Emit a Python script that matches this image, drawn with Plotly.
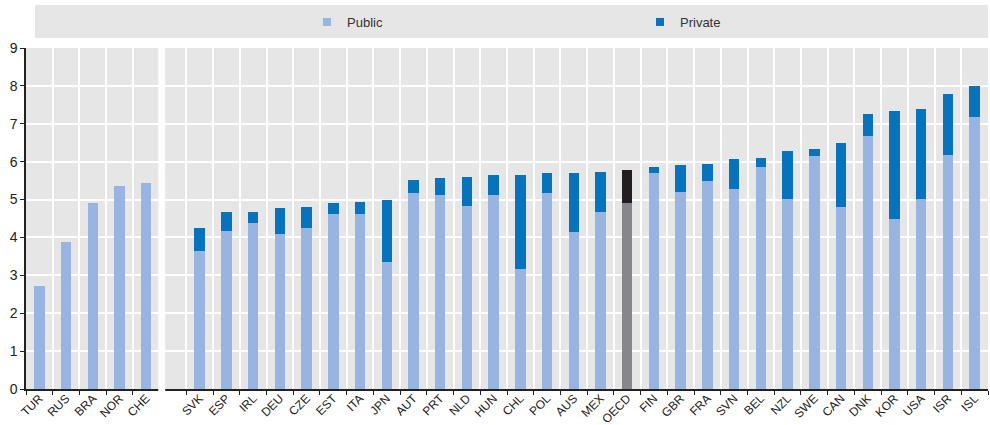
import plotly.graph_objects as go

categories = ["TUR", "RUS", "BRA", "NOR", "CHE", " ",
              "SVK", "ESP", "IRL", "DEU", "CZE", "EST", "ITA", "JPN", "AUT", "PRT",
              "NLD", "HUN", "CHL", "POL", "AUS", "MEX", "OECD", "FIN", "GBR", "FRA",
              "SVN", "BEL", "NZL", "SWE", "CAN", "DNK", "KOR", "USA", "ISR", "ISL"]

public = [2.72, 3.88, 4.92, 5.36, 5.43, None,
          3.64, 4.17, 4.39, 4.09, 4.25, 4.63, 4.61, 3.34, 5.17, 5.13,
          4.83, 5.11, 3.16, 5.17, 4.15, 4.67, 4.92, 5.71, 5.19, 5.49,
          5.28, 5.87, 5.02, 6.16, 4.81, 6.68, 4.48, 5.02, 6.17, 7.18]

private = [None, None, None, None, None, None,
           0.61, 0.50, 0.28, 0.69, 0.56, 0.27, 0.32, 1.65, 0.35, 0.44,
           0.77, 0.54, 2.49, 0.54, 1.56, 1.06, 0.86, 0.15, 0.73, 0.44,
           0.78, 0.23, 1.25, 0.18, 1.68, 0.58, 2.87, 2.38, 1.61, 0.82]

y_ticks = [0, 1, 2, 3, 4, 5, 6, 7, 8, 9]

PUBLIC_COL = "#98B4E0"
PRIVATE_COL = "#0673BC"
OECD_PUB_COL = "#85878A"
OECD_PRIV_COL = "#231F20"

pub_colors = [OECD_PUB_COL if c == "OECD" else PUBLIC_COL for c in categories]
priv_colors = [OECD_PRIV_COL if c == "OECD" else PRIVATE_COL for c in categories]

FONT = "Liberation Sans Narrow, Arial Narrow, Liberation Sans, Arial, sans-serif"

fig = go.Figure()
fig.add_trace(go.Bar(x=categories, y=public, marker=dict(color=pub_colors, line_width=0),
                     width=0.39, showlegend=False, name="Public"))
fig.add_trace(go.Bar(x=categories, y=private, marker=dict(color=priv_colors, line_width=0),
                     width=0.39, showlegend=False, name="Private"))
# legend entries
fig.add_trace(go.Scatter(x=[None], y=[None], mode="markers", name="Public",
                         marker=dict(symbol="square", size=8, color=PUBLIC_COL)))
fig.add_trace(go.Scatter(x=[None], y=[None], mode="markers", name="Private",
                         marker=dict(symbol="square", size=8, color=PRIVATE_COL)))

fig.update_layout(
    barmode="stack",
    width=990, height=425,
    margin=dict(l=26, r=2, t=48, b=36, autoexpand=False),
    paper_bgcolor="white",
    plot_bgcolor="#E6E6E6",
    font=dict(family=FONT, size=12, color="#222222"),
    showlegend=True,
    legend=dict(orientation="h", xref="container", yref="container", traceorder="normal",
                x=307 / 990, y=1 - 7 / 425, xanchor="left", yanchor="top",
                bgcolor="rgba(0,0,0,0)", entrywidth=288, entrywidthmode="pixels",
                font=dict(family=FONT, size=13, color="#333333")),
    shapes=[
        dict(type="rect", xref="paper", yref="paper", x0=(35 - 26) / 962, x1=1.0,
             y0=(389 - 38) / 341, y1=(389 - 5) / 341, fillcolor="#E6E6E6",
             line_width=0, layer="below"),
        dict(type="rect", xref="x", yref="paper", x0=4.45, x1=4.71,
             y0=-0.02, y1=1.0, fillcolor="white", line_width=0, layer="above"),
    ],
)

fig.update_xaxes(
    type="category", categoryorder="array", categoryarray=categories,
    tickson="boundaries", showgrid=True, gridcolor="white", gridwidth=1.8,
    ticks="outside", ticklen=4, tickcolor="#222222",
    showline=True, linecolor="#222222", linewidth=1.5, automargin=False,
    tickangle=-45, ticklabelstandoff=-4,
    tickfont=dict(family=FONT, size=12, color="#222222"),
    range=[-0.5, len(categories) - 0.5],
)
fig.update_yaxes(
    range=[0, 9], tickvals=y_ticks, showgrid=True, gridcolor="white", gridwidth=1.8,
    ticks="outside", ticklen=4, tickcolor="#222222",
    showline=True, linecolor="#222222", linewidth=1.5, zeroline=False, automargin=False,
    tickfont=dict(family=FONT, size=14, color="#222222"),
)

fig.write_html("out.html", config={"displayModeBar": False},
               post_script="document.body.style.margin='0';document.body.style.overflow='hidden';")
